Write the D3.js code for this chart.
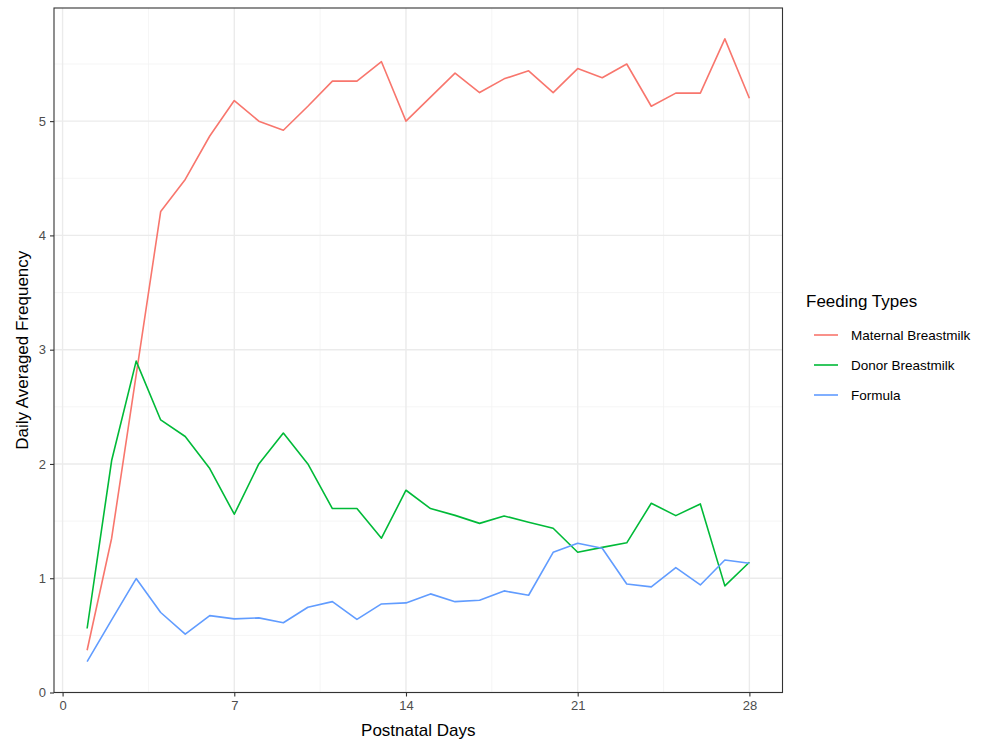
<!DOCTYPE html>
<html>
<head>
<meta charset="utf-8">
<script src="https://cdn.jsdelivr.net/npm/d3@7"></script>
<style>
  body { margin: 0; background: #fff; }
  svg text { font-family: "Liberation Sans", Arial, sans-serif; }
</style>
</head>
<body>
<svg id="chart" width="994" height="745"></svg>
<script>
// postnatal days 1..28
var days = d3.range(1, 29);
var seriesNames = ["Maternal Breastmilk", "Donor Breastmilk", "Formula"];
var seriesColors = ["#F8766D", "#00BA38", "#619CFF"];

var maternal = [0.37, 1.35, 2.78, 4.21, 4.49, 4.87, 5.18, 5.00, 4.92, 5.13,
	5.35, 5.35, 5.52, 5.00, 5.21, 5.42, 5.25, 5.37, 5.44, 5.25,
	5.46, 5.38, 5.50, 5.13, 5.245, 5.245, 5.72, 5.20];
var donor = [0.56, 2.03, 2.90, 2.385, 2.24, 1.96, 1.56, 2.00, 2.27, 2.00,
	1.61, 1.61, 1.35, 1.77, 1.61, 1.55, 1.48, 1.545, 1.49, 1.437,
	1.227, 1.27, 1.31, 1.656, 1.548, 1.65, 0.933, 1.14];
var formula = [0.27, 0.635, 0.997, 0.70, 0.51, 0.673, 0.644, 0.653, 0.61, 0.746,
	0.795, 0.64, 0.775, 0.784, 0.863, 0.795, 0.807, 0.889, 0.851, 1.227,
	1.306, 1.262, 0.95, 0.924, 1.093, 0.941, 1.16, 1.131];

var xTicks = [0, 7, 14, 21, 28];
var xMinor = [3.5, 10.5, 17.5, 24.5];
var yTicks = [0, 1, 2, 3, 4, 5];
var yMinor = [0.5, 1.5, 2.5, 3.5, 4.5, 5.5];

var svg = d3.select("#chart");
var panel = { left: 54, right: 782.5, top: 8, bottom: 692.5 };

var x = d3.scaleLinear().domain([-0.35, 29.35]).range([panel.left, panel.right]);
var y = d3.scaleLinear().domain([0, 5.99]).range([panel.bottom, panel.top]);

var g = svg.append("g");

// minor grid
g.selectAll(".xminor").data(xMinor).enter().append("line")
	.attr("x1", d => x(d)).attr("x2", d => x(d))
	.attr("y1", panel.top).attr("y2", panel.bottom)
	.style("stroke", "#f2f2f2").style("stroke-width", 0.8);
g.selectAll(".yminor").data(yMinor).enter().append("line")
	.attr("x1", panel.left).attr("x2", panel.right)
	.attr("y1", d => y(d)).attr("y2", d => y(d))
	.style("stroke", "#f2f2f2").style("stroke-width", 0.8);

// major grid
g.selectAll(".xmajor").data(xTicks).enter().append("line")
	.attr("x1", d => x(d)).attr("x2", d => x(d))
	.attr("y1", panel.top).attr("y2", panel.bottom)
	.style("stroke", "#ebebeb").style("stroke-width", 1.4);
g.selectAll(".ymajor").data(yTicks).enter().append("line")
	.attr("x1", panel.left).attr("x2", panel.right)
	.attr("y1", d => y(d)).attr("y2", d => y(d))
	.style("stroke", "#ebebeb").style("stroke-width", 1.4);

// lines
var allSeries = [maternal, donor, formula];
var line = d3.line().x((d, i) => x(days[i])).y(d => y(d));
g.selectAll(".series").data(allSeries).enter().append("path")
	.attr("d", d => line(d))
	.style("fill", "none")
	.style("stroke", (d, i) => seriesColors[i])
	.style("stroke-width", 1.6)
	.style("stroke-linejoin", "round");

// panel border
g.append("rect")
	.attr("x", panel.left).attr("y", panel.top)
	.attr("width", panel.right - panel.left).attr("height", panel.bottom - panel.top)
	.style("fill", "none").style("stroke", "#333").style("stroke-width", 1.1);

// axes
var xAxis = svg.append("g")
	.attr("transform", `translate(0,${panel.bottom})`)
	.call(d3.axisBottom(x).tickValues(xTicks).tickFormat(d3.format("d")).tickSize(4).tickPadding(4));
var yAxis = svg.append("g")
	.attr("transform", `translate(${panel.left},0)`)
	.call(d3.axisLeft(y).tickValues(yTicks).tickFormat(d3.format("d")).tickSize(4).tickPadding(4));
[xAxis, yAxis].forEach(function (a) {
	a.select(".domain").remove();
	a.selectAll(".tick line").style("stroke", "#333").style("stroke-width", 1.1);
	a.selectAll(".tick text")
		.style("font-size", "13px")
		.style("fill", "#4d4d4d")
		.style("font-family", "Liberation Sans, Arial, sans-serif");
});

svg.append("text")
	.attr("x", (panel.left + panel.right) / 2)
	.attr("y", 736)
	.style("text-anchor", "middle")
	.style("font-size", "17px")
	.style("fill", "#000")
	.text("Postnatal Days");

svg.append("text")
	.attr("transform", `translate(28,${(panel.top + panel.bottom) / 2}) rotate(-90)`)
	.style("text-anchor", "middle")
	.style("font-size", "17px")
	.style("fill", "#000")
	.text("Daily Averaged Frequency");

// legend
var legend = svg.append("g").attr("transform", "translate(806,0)");
legend.append("text")
	.attr("x", 0).attr("y", 307)
	.style("font-size", "17px")
	.style("fill", "#000")
	.text("Feeding Types");

var items = legend.selectAll(".item").data(seriesNames).enter().append("g")
	.attr("transform", (d, i) => `translate(0,${335 + i * 30})`);
items.append("line")
	.attr("x1", 8).attr("x2", 32).attr("y1", 0).attr("y2", 0)
	.style("stroke", (d, i) => seriesColors[i])
	.style("stroke-width", 1.6);
items.append("text")
	.attr("x", 45).attr("y", 5)
	.style("font-size", "13.5px")
	.style("fill", "#000")
	.text(d => d);
</script>
</body>
</html>
